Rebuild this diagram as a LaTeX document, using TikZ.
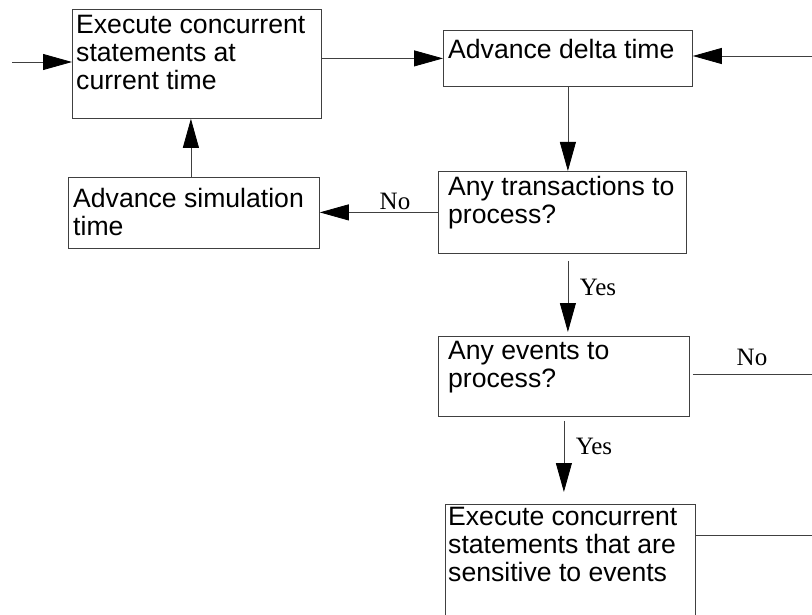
\documentclass[tikz,border=0pt]{standalone}
\usepackage{fontspec}
\setmainfont{Liberation Sans}
\newfontfamily\labelfont{Liberation Serif}
\usepackage{tikz}
\usetikzlibrary{arrows.meta,positioning,calc}

\begin{document}
\begin{tikzpicture}[
    x=1pt, y=-1pt,
    stepbox/.style={draw=black!75, line width=0.8pt, anchor=north west, inner sep=0pt},
    boxtext/.style={anchor=north west, inner sep=0pt, align=left, font=\fontsize{26.6}{28}\selectfont},
    cond/.style={font=\labelfont\fontsize{25}{25}\selectfont, inner sep=0pt},
    wire/.style={draw=black!75, line width=0.8pt},
    flow/.style={wire, -{Triangle[length=29pt,width=16pt,black]}}
]
    \clip (0,0) rectangle (812,615);

    % Boxes
    \node[stepbox, minimum width=249pt, minimum height=109pt] (exec) at (72,9) {};
    \node[boxtext] (exec_txt) at (76,15) {Execute concurrent\\statements at\\current time};

    \node[stepbox, minimum width=249pt, minimum height=56pt] (delta) at (443,30) {};
    \node[boxtext] (delta_txt) at (448,39) {Advance delta time};

    \node[stepbox, minimum width=251pt, minimum height=71pt] (simtime) at (68,177) {};
    \node[boxtext] (simtime_txt) at (73,188) {Advance simulation\\time};

    \node[stepbox, minimum width=248pt, minimum height=82pt] (trans) at (438,171) {};
    \node[boxtext] (trans_txt) at (448,176) {Any transactions to\\process?};

    \node[stepbox, minimum width=251pt, minimum height=80pt] (events) at (438,336) {};
    \node[boxtext] (events_txt) at (448,341) {Any events to\\process?};

    \node[stepbox, minimum width=250pt, minimum height=140pt] (sensitive) at (445,504) {};
    \node[boxtext] (sensitive_txt) at (448,507) {Execute concurrent\\statements that are\\sensitive to events};

    % Free ends
    \coordinate (start) at (12,62);
    \coordinate (back) at (812,56);
    \coordinate (evno) at (812,374);
    \coordinate (sensout) at (812,535);

    % Labels
    \node[cond] (no1) at (395,201) {No};
    \node[cond] (yes1) at (598,287) {Yes};
    \node[cond] (no2) at (752,357) {No};
    \node[cond] (yes2) at (594,446) {Yes};

    % Connectors
    \draw[flow] (start) -- (start -| exec.west);
    \draw[flow] (exec.east |- delta.west) -- (delta.west);
    \draw[flow] (back) -- (back -| delta.east);
    \draw[flow] (delta.south) -- (delta.south |- trans.north);
    \draw[flow] (trans.west) -- (trans.west -| simtime.east);
    \draw[flow] ([xshift=-3pt]simtime.north) -- ([xshift=-3pt]simtime.north |- exec.south);
    \draw[flow, shorten <=7pt, shorten >=4pt] (delta.south |- trans.south) -- (delta.south |- events.north);
    \draw[flow, shorten <=4pt, shorten >=12pt] (events.south) -- (events.south |- sensitive.north);
    \draw[wire] ([xshift=3pt]events.east |- evno) -- (evno);
    \draw[wire] (sensitive.east |- sensout) -- (sensout);

\end{tikzpicture}
\end{document}
